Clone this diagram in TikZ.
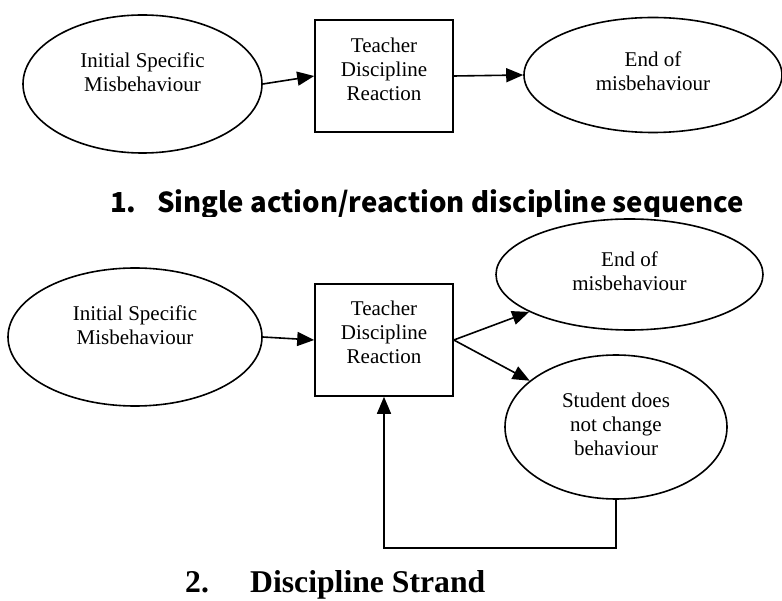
\documentclass[tikz,border=0pt]{standalone}
\usepackage{fontspec}
\setmainfont{Liberation Serif}
\newfontfamily\headfont{Noto Sans CJK KR}
\usepackage{tikz}
\usetikzlibrary{shapes.geometric}
\usetikzlibrary{arrows.meta}
\usetikzlibrary{calc}

\tikzset{
  oval/.style={draw, ellipse, line width=1.6pt, inner sep=0pt},
  block/.style={draw, rectangle, line width=1.6pt, inner sep=0pt, minimum width=138pt, minimum height=112pt},
  txt/.style={align=center, inner sep=0pt, font=\fontsize{21}{24}\selectfont},
  arr/.style={line width=1.6pt, -{Triangle[length=17pt,width=14pt]}}
}

\begin{document}
\begin{tikzpicture}[x=1pt,y=-1pt]
  \useasboundingbox (0,0) rectangle (782,601);
  \node (init1) at (142.5,84) [oval, minimum width=239pt, minimum height=138pt] {};
  \node (init1txt) at ($(init1.center)+(0,-12)$) [txt] {Initial Specific\\Misbehaviour};
  \node (react1) at (384,76) [block] {};
  \node (react1txt) at ($(react1.center)+(0,-7)$) [txt] {Teacher\\Discipline\\Reaction};
  \node (end1) at (653,75) [oval, minimum width=258pt, minimum height=115pt] {};
  \node (end1txt) at ($(end1.center)+(0,-4)$) [txt] {End of\\misbehaviour};
  \draw[arr] (init1.east) -- (react1.west);
  \draw[arr] (react1.east) -- (end1.west);
  \node (title1) at (110,213) [anchor=base west, inner sep=0pt, font=\headfont\bfseries\fontsize{27.5}{30}\selectfont] {\makebox[47pt][l]{1.}Single action/reaction discipline sequence};
  \fill[white] (0,217) rectangle (782,601);
  \node (init2) at (135,337) [oval, minimum width=254pt, minimum height=138pt] {};
  \node (init2txt) at ($(init2.center)+(0,-12)$) [txt] {Initial Specific\\Misbehaviour};
  \node (react2) at (384,340) [block] {};
  \node (react2txt) at ($(react2.center)+(0,-8)$) [txt] {Teacher\\Discipline\\Reaction};
  \node (end2) at (629.5,274.5) [oval, minimum width=267pt, minimum height=111pt] {};
  \node (end2txt) at ($(end2.center)+(0,-3)$) [txt] {End of\\misbehaviour};
  \node (stay2) at (616,427) [oval, minimum width=222pt, minimum height=144pt] {};
  \node (stay2txt) at ($(stay2.center)+(0,-3)$) [txt] {Student does\\not change\\behaviour};
  \draw[arr] (init2.east) -- (react2.west);
  \draw[arr] (react2.east) -- (end2);
  \draw[arr] (react2.east) -- (stay2);
  \draw[arr] (stay2.south) -- ++(0,48) -| (react2.south);
  \node (title2) at (185,592) [anchor=base west, inner sep=0pt, font=\bfseries\fontsize{31.7}{34}\selectfont] {\makebox[65pt][l]{2.}Discipline Strand};
\end{tikzpicture}
\end{document}
